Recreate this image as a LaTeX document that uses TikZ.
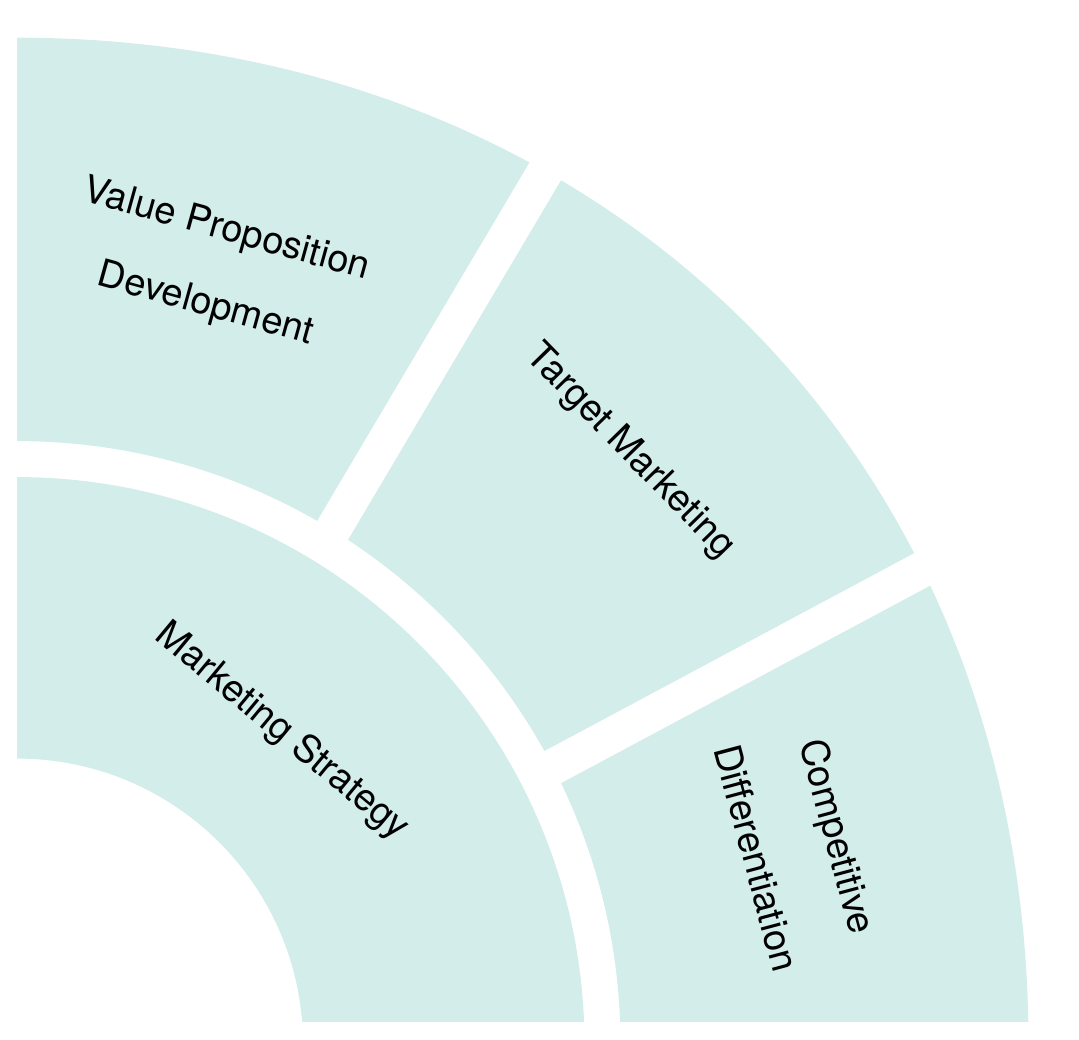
\documentclass[tikz,border=0pt]{standalone}
\usepackage{fontspec}
\setmainfont{TeX Gyre Heros}
\definecolor{ringfill}{RGB}{211,237,235}
\begin{document}
\begin{tikzpicture}[x=0.02cm, y=0.02cm,
  lbl/.style={font=\fontsize{21.6}{44}\selectfont, align=center, inner sep=0pt},
  gap/.style={white, line width=0.72cm}]
\useasboundingbox (0,0) rectangle (1079,1040);
\coordinate (O) at (17,-4.6);
\begin{scope}
\clip (17,18.3) rectangle (1079,1040);
% outer ring
\fill[ringfill] (O) ++(0:603.5) -- (1028.5,-4.6)
  .. controls +(0,604.1) and +(571.5,0) .. (17,1002.3)
  -- (17,598.9) arc[start angle=90, end angle=0, radius=603.5] -- cycle;
\draw[gap] (28,-4.6) -- ++(59.36:1100);
\draw[gap] (34.1,-4.6) -- ++(28.15:1100);
% inner ring
\fill[ringfill] (O) ++(0:286) -- ++(281.5,0) arc[start angle=0, end angle=90, radius=567.5]
  -- ++(0,-281.5) arc[start angle=90, end angle=0, radius=286] -- cycle;
\end{scope}
\path (O) ++(49.71:409.8) node[lbl, rotate=-39.7] (ms) {Marketing Strategy};
\path (O) ++(75.63:801.7) node[lbl, rotate=-15.5] (vp) {Value Proposition\\Development};
\path (O) ++(44.04:852.8) node[lbl, rotate=-45.7] (tm) {Target Marketing};
\path (O) ++(14.2:805.4) node[lbl, rotate=-75, font=\fontsize{21.6}{48}\selectfont] (cd) {Competitive\\Differentiation};
\end{tikzpicture}
\end{document}
